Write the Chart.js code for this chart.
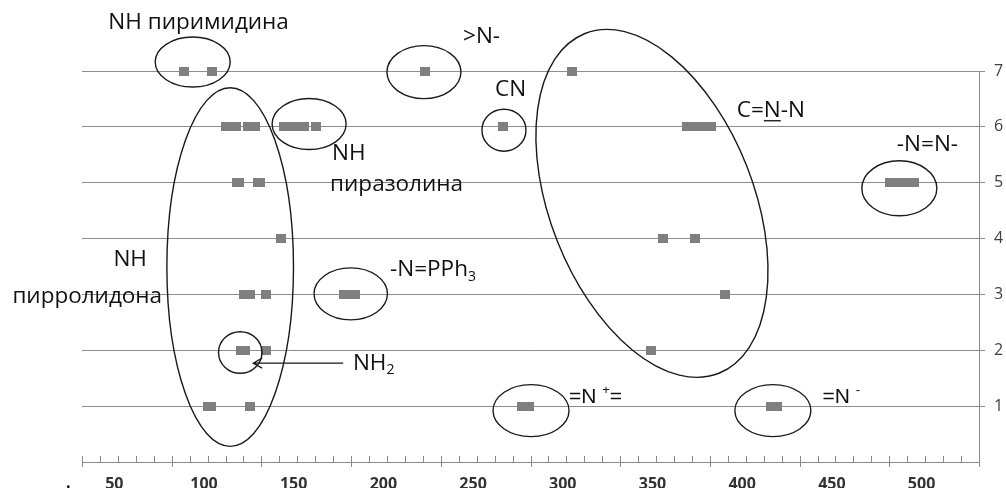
<!DOCTYPE html>
<html>
<head>
<meta charset="utf-8">
<script src="https://cdn.jsdelivr.net/npm/chart.js@4/dist/chart.umd.min.js"></script>
<style>
    html, body { margin: 0; padding: 0; background: #fff; }
    #wrap { width: 1006px; height: 488px; }
</style>
</head>
<body>
<div id="wrap"><canvas id="chart" width="1006" height="488"></canvas></div>
<script>
// === Data: shift values (x) for each row level (y) ===
const levels = [1, 2, 3, 4, 5, 6, 7];
const row1 = [102.2, 104.0, 125.9, 277.4, 281.2, 416.0, 419.5];
const row2 = [120.7, 122.6, 134.6, 349.3];
const row3 = [122.4, 125.7, 134.4, 178.1, 181.0, 183.9, 390.3];
const row4 = [143.0, 356.0, 373.6];
const row5 = [118.3, 119.6, 130.0, 131.3, 482.6, 486.8, 491.0, 495.6];
const row6 = [112.2, 115.0, 118.0, 124.5, 128.5, 144.7, 148.5, 152.3, 156.0, 162.4, 266.4, 369.3, 373.5, 378.0, 382.4];
const row7 = [88.8, 104.2, 223.1, 304.9];
const rows = [row1, row2, row3, row4, row5, row6, row7];

const xTickLabels = [50, 100, 150, 200, 250, 300, 350, 400, 450, 500];
const yTickLabels = [1, 2, 3, 4, 5, 6, 7];

// axis range; tick marks start from xMin
const xMin = 32, xMax = 532;

// === Annotations (centres in data units, radii in px) ===
const ellipses = [
    { x: 93.7, y: 7.16, rx: 37.5, ry: 25 },     // NH пиримидина
    { x: 222.6, y: 6.98, rx: 37, ry: 26.5 },    // >N-
    { x: 267.2, y: 5.94, rx: 22, ry: 21 },      // CN
    { x: 349.7, y: 4.63, rx: 182.6, ry: 101.9, rot: 68.5 }, // C=N-N
    { x: 158.6, y: 6.05, rx: 37, ry: 25.5 },    // NH пиразолина
    { x: 114.6, y: 3.49, rx: 63.3, ry: 179.3 }, // NH пирролидона
    { x: 181.8, y: 3.01, rx: 36.7, ry: 26 },    // -N=PPh3
    { x: 120.2, y: 1.96, rx: 21.7, ry: 20.8 },  // NH2
    { x: 282.3, y: 0.92, rx: 38, ry: 26 },      // =N+=
    { x: 417.1, y: 0.92, rx: 38, ry: 26 },      // =N-
    { x: 487.6, y: 4.90, rx: 37.5, ry: 27.5 }   // -N=N-
];

const mainFont = '"Open Sans", "Noto Sans", sans-serif';
const arialFont = '"Liberation Sans", Arial, sans-serif';

const labels = [
    { x: 46.7, y: 7.86, runs: [{ t: 'NH пиримидина' }] },
    { x: 244.4, y: 7.62, runs: [{ t: '>N-' }] },
    { x: 262.2, y: 6.67, runs: [{ t: 'CN' }] },
    { x: 397.0, y: 6.29, runs: [{ t: 'C=' }, { t: 'N', u: true }, { t: '-N' }] },
    { x: 486.2, y: 5.69, runs: [{ t: '-N=N-' }] },
    { x: 171.4, y: 5.53, runs: [{ t: 'NH' }] },
    { x: 170.3, y: 4.97, runs: [{ t: 'пиразолина' }] },
    { x: 49.5, y: 3.62, runs: [{ t: 'NH' }] },
    { x: -6.8, y: 2.97, runs: [{ t: 'пирролидона' }] },
    { x: 203.7, y: 3.44, runs: [{ t: '-N=PPh' }, { t: '3', sub: true }] },
    { x: 183.0, y: 1.77, runs: [{ t: 'NH' }, { t: '2', sub: true }] },
    { x: 303.4, y: 1.16, font: arialFont, runs: [{ t: '=N ' }, { t: '+', sup: true }, { t: '=' }] },
    { x: 444.8, y: 1.16, font: arialFont, runs: [{ t: '=N ' }, { t: '-', sup: true }] }
];

// arrow pointing to the NH2 circle
const arrow = { from: 177.6, to: 127.4, y: 1.77 };

// square-ish grey marker
const marker = document.createElement('canvas');
marker.width = 10;
marker.height = 9;
const mctx = marker.getContext('2d');
mctx.fillStyle = '#7f7f7f';
mctx.fillRect(0, 0, 10, 9);

function drawRuns(ctx, item, px, py) {
    const size = item.font ? 21 : 22.5;
    const family = item.font || mainFont;
    let cx = px;
    item.runs.forEach(r => {
        const s = (r.sub || r.sup) ? Math.round(size * 0.62) : size;
        ctx.font = `${s}px ${family}`;
        let dy = 0;
        if (r.sub) dy = size * 0.3;
        if (r.sup) dy = -size * 0.3;
        ctx.fillText(r.t, cx, py + dy);
        const w = ctx.measureText(r.t).width;
        if (r.u) {
            ctx.fillRect(cx, py + size * 0.42, w, 1.3);
        }
        cx += w;
    });
}

const decor = {
    id: 'decor',
    afterDraw(chart) {
        const { ctx, chartArea } = chart;
        const xs = chart.scales.x;
        const ys = chart.scales.y;
        ctx.save();

        // x axis tick marks: minor inside, major crossing
        ctx.strokeStyle = '#8a8a8a';
        ctx.lineWidth = 1;
        const base = Math.round(chartArea.bottom) + 0.5;
        for (let v = xMin; v <= xMax + 0.01; v += 10) {
            const px = Math.round(xs.getPixelForValue(v)) + 0.5;
            const major = Math.abs((v - xMin) % 50) < 0.01;
            ctx.beginPath();
            ctx.moveTo(px, base - 6.5);
            ctx.lineTo(px, major ? base + 4.5 : base);
            ctx.stroke();
        }

        // ellipses
        ctx.strokeStyle = '#1a1a1a';
        ctx.lineWidth = 1.4;
        ellipses.forEach(e => {
            ctx.beginPath();
            ctx.ellipse(xs.getPixelForValue(e.x), ys.getPixelForValue(e.y),
                e.rx, e.ry, (e.rot || 0) * Math.PI / 180, 0, Math.PI * 2);
            ctx.stroke();
        });

        // arrow
        const ay = ys.getPixelForValue(arrow.y);
        const ax1 = xs.getPixelForValue(arrow.from);
        const ax2 = xs.getPixelForValue(arrow.to);
        ctx.lineWidth = 1.2;
        ctx.beginPath();
        ctx.moveTo(ax1, ay);
        ctx.lineTo(ax2, ay);
        ctx.moveTo(ax2 + 9, ay - 5);
        ctx.lineTo(ax2, ay);
        ctx.lineTo(ax2 + 9, ay + 5);
        ctx.stroke();

        // text labels
        ctx.fillStyle = '#111';
        ctx.textBaseline = 'middle';
        ctx.textAlign = 'left';
        labels.forEach(l => {
            drawRuns(ctx, l, xs.getPixelForValue(l.x), ys.getPixelForValue(l.y));
        });

        // stray dot at bottom left
        ctx.font = `bold 16px ${mainFont}`;
        ctx.fillText('.', 66, 483);

        ctx.restore();
    }
};

const datasets = rows.map((r, i) => ({
    data: r.map(v => ({ x: v, y: levels[i] })),
    pointStyle: marker,
    pointRadius: 5,
    showLine: false,
    clip: false
}));

new Chart(document.getElementById('chart'), {
    type: 'scatter',
    data: { datasets },
    options: {
        responsive: false,
        animation: false,
        events: [],
        layout: { padding: { left: 82, top: 71, right: 0, bottom: 0 } },
        plugins: {
            legend: { display: false },
            tooltip: { enabled: false }
        },
        scales: {
            x: {
                type: 'linear',
                position: 'bottom',
                min: xMin,
                max: xMax,
                afterBuildTicks: s => { s.ticks = xTickLabels.map(v => ({ value: v })); },
                afterFit: s => { s.height = 26; },
                grid: { display: false, drawTicks: false },
                border: { display: true, color: '#8a8a8a', width: 1 },
                ticks: {
                    color: '#333',
                    font: { family: mainFont, size: 16, weight: 'bold' },
                    padding: 13,
                    maxRotation: 0,
                    autoSkip: false
                }
            },
            y: {
                type: 'linear',
                position: 'right',
                min: 0,
                max: 7,
                afterBuildTicks: s => { s.ticks = yTickLabels.map(v => ({ value: v })); },
                afterFit: s => { s.width = 27; },
                grid: { color: '#8e8e8e', lineWidth: 1, tickLength: 6 },
                border: { display: true, color: '#8a8a8a', width: 1 },
                ticks: {
                    color: '#404040',
                    font: { family: mainFont, size: 16 },
                    padding: 9
                }
            }
        }
    },
    plugins: [decor]
});
</script>
</body>
</html>
